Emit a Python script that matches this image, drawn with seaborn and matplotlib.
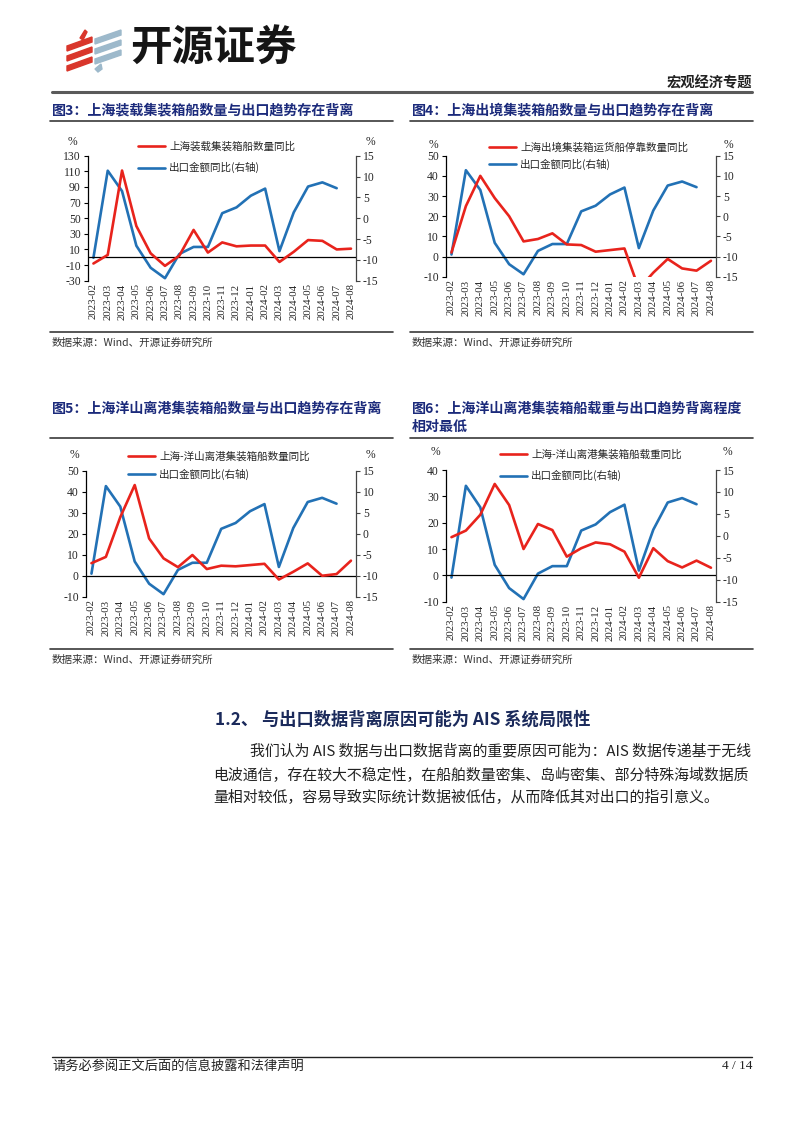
import numpy as np
import pandas as pd
import matplotlib
matplotlib.use("Agg")
import matplotlib.pyplot as plt
import seaborn as sns
from matplotlib.lines import Line2D
from matplotlib.patches import Polygon

# ---------------- data ----------------
months = ["2023-02", "2023-03", "2023-04", "2023-05", "2023-06", "2023-07",
          "2023-08", "2023-09", "2023-10", "2023-11", "2023-12", "2024-01",
          "2024-02", "2024-03", "2024-04", "2024-05", "2024-06", "2024-07",
          "2024-08"]

# export value YoY (right axis), 2023-02 .. 2024-07
export_yoy = [-9.5, 11.4, 6.5, -6.6, -11.9, -14.4, -8.6, -6.9, -6.9, 1.2,
              2.6, 5.4, 7.1, -7.9, 1.4, 7.6, 8.6, 7.2]

fig3_loaded_ships = [-8, 3, 111, 40, 5, -11, 2, 35, 6, 19, 14, 15, 15, -6,
                     7, 22, 21, 10, 11]
fig4_outbound_berth = [2, 25, 40, 29, 20, 7.5, 8.7, 11.5, 6, 5.7, 2.4, 3.2,
                       4.0, -16, -8, -1.2, -5.9, -7, -2.1]
fig5_yangshan_count = [6, 9, 28, 43.3, 17.8, 8.3, 4.1, 9.9, 3.2, 4.8, 4.5,
                       5.1, 5.7, -1.8, 1.9, 5.9, 0, 0.8, 7.2]
fig6_yangshan_weight = [14.5, 17, 23, 34.7, 26.7, 10, 19.5, 17.2, 7.1, 10.3,
                        12.5, 11.8, 9, -0.9, 10.3, 5.4, 3.0, 5.6, 2.9]

label_fig3 = "上海装载集装箱船数量同比"
label_fig4 = "上海出境集装箱运货船停靠数量同比"
label_fig5 = "上海-洋山离港集装箱船数量同比"
label_fig6 = "上海-洋山离港集装箱船载重同比"
label_export = "出口金额同比(右轴)"

title_fig3 = "图3：上海装载集装箱船数量与出口趋势存在背离"
title_fig4 = "图4：上海出境集装箱船数量与出口趋势存在背离"
title_fig5 = "图5：上海洋山离港集装箱船数量与出口趋势存在背离"
title_fig6 = ["图6：上海洋山离港集装箱船载重与出口趋势背离程度", "相对最低"]
source_text = "数据来源：Wind、开源证券研究所"

section_title = "1.2、 与出口数据背离原因可能为 AIS 系统局限性"
para_lines = ["我们认为 AIS 数据与出口数据背离的重要原因可能为：AIS 数据传递基于无线",
              "电波通信，存在较大不稳定性，在船舶数量密集、岛屿密集、部分特殊海域数据质",
              "量相对较低，容易导致实际统计数据被低估，从而降低其对出口的指引意义。"]
footer_left = "请务必参阅正文后面的信息披露和法律声明"
footer_right = "4 / 14"

# ---------------- style ----------------
sns.set_theme(style="white")
plt.rcParams["font.family"] = ["Noto Sans CJK SC", "DejaVu Sans"]
plt.rcParams["axes.unicode_minus"] = False

RED = "#E8231C"
BLUE = "#2271B5"
NAVY = "#1B2A7B"
SERIF = "Liberation Serif"

W, H = 802, 1133
fig = plt.figure(figsize=(W / 100, H / 100), dpi=100)
fig.patch.set_facecolor("white")


def fx(x):
    return x / W


def fy(y):
    return 1 - y / H


def hline(x0, x1, y, color="#3a3a3a", lw=1.2):
    fig.add_artist(Line2D([fx(x0), fx(x1)], [fy(y), fy(y)], color=color, lw=lw,
                          transform=fig.transFigure))


def ftext(x, y, s, **kw):
    fig.text(fx(x), fy(y), s, **kw)


def draw_chart(box, red_vals, red_label, ylim, yticks, leg_xy, leg_space,
               pct_left, pct_right):
    x0, x1, y0, y1 = box
    ax = fig.add_axes([fx(x0), fy(y1), (x1 - x0) / W, (y1 - y0) / H])
    ax2 = ax.twinx()

    df_r = pd.DataFrame({"idx": np.arange(len(red_vals)), "v": red_vals})
    df_b = pd.DataFrame({"idx": np.arange(len(export_yoy)), "v": export_yoy})
    sns.lineplot(data=df_b, x="idx", y="v", ax=ax2, color=BLUE, lw=1.9,
                 legend=False)
    sns.lineplot(data=df_r, x="idx", y="v", ax=ax, color=RED, lw=1.9,
                 legend=False)

    ax.set_zorder(ax2.get_zorder() + 1)
    ax.patch.set_visible(False)

    ax.set_xlim(-0.4, len(months) - 1 + 0.35)
    ax.set_ylim(*ylim)
    ax2.set_ylim(-15, 15)
    ax.axhline(0, color="black", lw=0.9, zorder=1)

    ax.set_xticks(np.arange(len(months)))
    ax.set_xticklabels(months, rotation=90, fontfamily=SERIF, fontsize=7.8)
    ax.tick_params(axis="x", bottom=True, length=0, pad=2)
    ax.set_yticks(yticks)
    ax.set_yticklabels([str(t) for t in yticks], fontfamily=SERIF, fontsize=8.4)
    ax.tick_params(axis="y", left=True, direction="out", length=3, width=0.8,
                   pad=2, color="black")
    r_ticks = [-15, -10, -5, 0, 5, 10, 15]
    ax2.set_yticks(r_ticks)
    ax2.set_yticklabels([str(t) for t in r_ticks], fontfamily=SERIF,
                        fontsize=8.4)
    ax2.tick_params(axis="y", right=True, direction="out", length=3, width=0.8,
                    pad=2, color="#444444")
    ax.set_xlabel("")
    ax.set_ylabel("")
    ax2.set_ylabel("")

    for s in ["top", "bottom", "right"]:
        ax.spines[s].set_visible(False)
    ax.spines["left"].set_color("black")
    ax.spines["left"].set_linewidth(0.9)
    for s in ["top", "bottom", "left"]:
        ax2.spines[s].set_visible(False)
    ax2.spines["right"].set_color("#444444")
    ax2.spines["right"].set_linewidth(0.9)

    handles = [Line2D([], [], color=RED, lw=1.9), Line2D([], [], color=BLUE, lw=1.9)]
    ax.legend(handles, [red_label, label_export], loc="upper left",
              bbox_to_anchor=(fx(leg_xy[0]), fy(leg_xy[1])),
              bbox_transform=fig.transFigure, frameon=False, fontsize=7.6,
              handlelength=2.6, handletextpad=0.35, labelspacing=leg_space,
              borderpad=0, borderaxespad=0)

    ftext(pct_left[0], pct_left[1], "%", fontfamily=SERIF, fontsize=8.4,
          ha="center", va="center")
    ftext(pct_right[0], pct_right[1], "%", fontfamily=SERIF, fontsize=8.4,
          ha="center", va="center")


# ---------------- header ----------------
red_bars = [[(67, 71), (92, 62), (92, 57), (67, 66)],
            [(67, 61), (92, 52), (92, 47), (67, 56)],
            [(67, 51), (92, 42), (92, 37), (67, 46)],
            [(80, 38), (85, 30), (87, 32), (83, 40)]]
blue_bars = [[(95, 64), (121, 55), (121, 50), (95, 59)],
             [(95, 54), (121, 45), (121, 40), (95, 49)],
             [(95, 44), (121, 35), (121, 30), (95, 39)],
             [(95, 69), (101, 64), (102, 69), (98, 72)]]
for pts in red_bars:
    fig.add_artist(Polygon([(fx(a), fy(b)) for a, b in pts], closed=True,
                           color="#D9362B", transform=fig.transFigure))
for pts in blue_bars:
    fig.add_artist(Polygon([(fx(a), fy(b)) for a, b in pts], closed=True,
                           color="#9DB9CB", transform=fig.transFigure))
ftext(130, 49, "开源证券", fontsize=30, fontweight="bold", color="#151515",
      ha="left", va="center")
ftext(752, 83, "宏观经济专题", fontsize=10.3, fontweight="bold", color="#222222",
      ha="right", va="center")
hline(52, 752, 92, color="#5a5a5a", lw=2.2)

# ---------------- chart titles & rules ----------------
TS = 10.1
ftext(52, 110, title_fig3, fontsize=TS, fontweight="bold", color=NAVY,
      ha="left", va="center")
ftext(412, 110, title_fig4, fontsize=TS, fontweight="bold", color=NAVY,
      ha="left", va="center")
ftext(52, 408, title_fig5, fontsize=TS, fontweight="bold", color=NAVY,
      ha="left", va="center")
ftext(412, 408, title_fig6[0], fontsize=TS, fontweight="bold", color=NAVY,
      ha="left", va="center")
ftext(412, 427, title_fig6[1], fontsize=TS, fontweight="bold", color=NAVY,
      ha="left", va="center")

for yy in (121, 332):
    hline(50, 393, yy)
    hline(410, 753, yy)
for yy in (438, 649):
    hline(50, 393, yy)
    hline(410, 753, yy)

ftext(52, 343, source_text, fontsize=7.6, color="#333333", ha="left", va="center")
ftext(412, 343, source_text, fontsize=7.6, color="#333333", ha="left", va="center")
ftext(52, 660, source_text, fontsize=7.6, color="#333333", ha="left", va="center")
ftext(412, 660, source_text, fontsize=7.6, color="#333333", ha="left", va="center")

# ---------------- charts ----------------
draw_chart((87.7, 356, 155.7, 280.7), fig3_loaded_ships, label_fig3,
           (-30, 130), list(range(-30, 131, 20)), (138, 141), 1.03,
           (72, 142), (370, 142))
draw_chart((445.7, 716, 155.7, 276.7), fig4_outbound_berth, label_fig4,
           (-10, 50), list(range(-10, 51, 10)), (489, 142), 0.6,
           (433, 145), (728, 145))
draw_chart((85.7, 356, 471, 596.7), fig5_yangshan_count, label_fig5,
           (-10, 50), list(range(-10, 51, 10)), (128, 451), 0.72,
           (74, 455), (370, 455))
draw_chart((445.7, 716, 470, 601.7), fig6_yangshan_weight, label_fig6,
           (-10, 40), list(range(-10, 41, 10)), (500, 449), 1.03,
           (435, 452), (727, 452))

# ---------------- body text ----------------
ftext(215, 720, section_title, fontsize=12.4, fontweight="bold", color="#1B2A5B",
      ha="left", va="center")
ftext(250, 751, para_lines[0], fontsize=10.75, color="#222222", ha="left", va="center")
ftext(213, 775, para_lines[1], fontsize=10.75, color="#222222", ha="left", va="center")
ftext(213, 798, para_lines[2], fontsize=10.75, color="#222222", ha="left", va="center")

# ---------------- footer ----------------
hline(52, 752, 1057, color="#222222", lw=1.0)
ftext(52, 1066, footer_left, fontsize=9.5, color="#222222", ha="left", va="center")
ftext(752, 1066, footer_right, fontsize=9.5, color="#222222", ha="right",
      va="center", fontfamily=SERIF)

fig.savefig("out.png", dpi=100, facecolor="white")
